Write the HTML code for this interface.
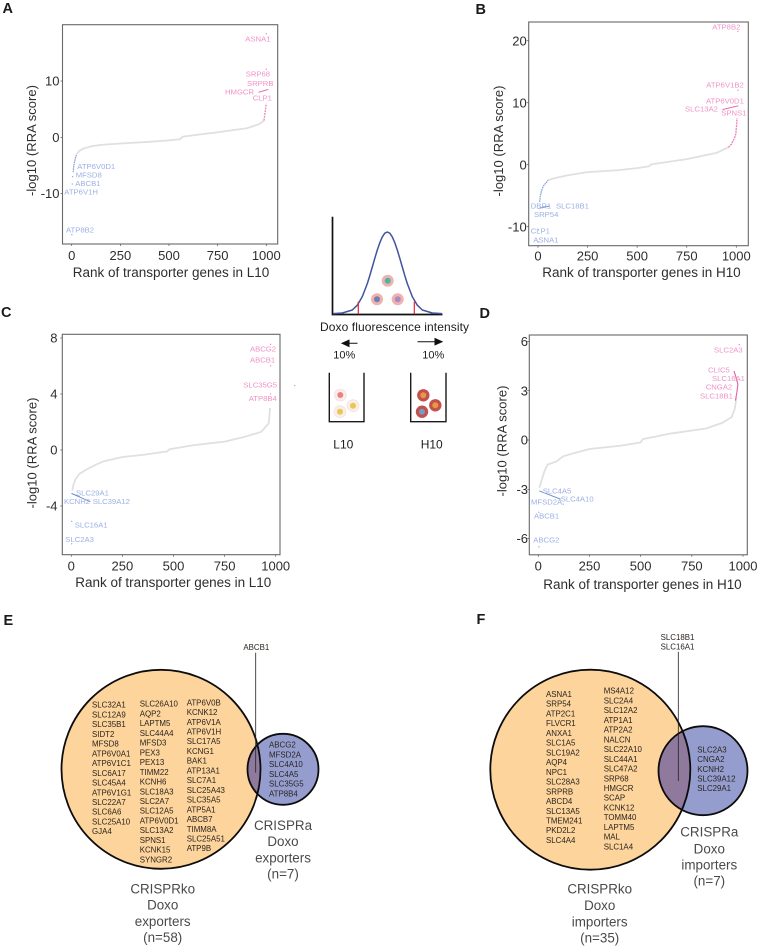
<!DOCTYPE html>
<html>
<head>
<meta charset="utf-8">
<title>CRISPR screens of doxorubicin transporters</title>
<style>
html,body{margin:0;padding:0;background:#fff;}
svg{display:block;font-family:"Liberation Sans",sans-serif;}
.letter{font-size:14.5px;font-weight:bold;fill:#1a1a1a;}
.pk{font-size:7.7px;fill:#ef93c8;}
.bl{font-size:7.7px;fill:#9db0e3;}
.gene{font-size:7.9px;fill:#2a2520;}
.cap{font-size:13.4px;fill:#4a4a4a;text-anchor:middle;}
.dia{font-size:12px;fill:#1c1c1c;}
.pct{font-size:11px;fill:#1c1c1c;}
</style>
</head>
<body>
<svg id="fig" width="758" height="947" viewBox="0 0 758 947" xmlns="http://www.w3.org/2000/svg">
<defs>
<clipPath id="clipE"><circle cx="161" cy="769.3" r="99.5"/></clipPath>
<clipPath id="clipF"><circle cx="590.3" cy="769.7" r="100"/></clipPath>
</defs>

<text class="letter" x="2.5" y="13">A</text>
<text class="letter" x="475.5" y="14">B</text>
<text class="letter" x="1" y="317">C</text>
<text class="letter" x="479.5" y="318">D</text>
<text class="letter" x="3.5" y="625">E</text>
<text class="letter" x="476.5" y="624">F</text>

<g id="panelA"></g>
<g id="panelB"></g>
<g id="panelC"></g>
<g id="panelD"></g>

<g>
<text class="pk" x="245.3" y="41.7">ASNA1</text>
<text class="pk" x="245.7" y="76.7">SRP68</text>
<text class="pk" x="247" y="86">SRPRB</text>
<text class="pk" x="225" y="94.7">HMGCR</text>
<text class="pk" x="252.7" y="100.7">CLP1</text>
<text class="bl" x="77.3" y="169">ATP6V0D1</text>
<text class="bl" x="75.7" y="177.7">MFSD8</text>
<text class="bl" x="75.3" y="186">ABCB1</text>
<text class="bl" x="64.3" y="194.7">ATP6V1H</text>
<text class="bl" x="66" y="232.3">ATP8B2</text>
</g>
<g>
<text class="pk" x="712.3" y="29.3">ATP8B2</text>
<text class="pk" x="706.3" y="87.3">ATP6V1B2</text>
<text class="pk" x="706" y="103.3">ATP6V0D1</text>
<text class="pk" x="685" y="111.7">SLC13A2</text>
<text class="pk" x="721.3" y="115.7">SPNS1</text>
<text class="bl" x="530.7" y="208.3">DBR1</text>
<text class="bl" x="556" y="208.3">SLC18B1</text>
<text class="bl" x="534" y="217">SRP54</text>
<text class="bl" x="530.7" y="233.3">CLP1</text>
<text class="bl" x="533.3" y="242.7">ASNA1</text>
</g>
<g>
<text class="pk" x="250" y="351.7">ABCG2</text>
<text class="pk" x="250" y="362.7">ABCB1</text>
<text class="pk" x="243.3" y="387.7">SLC35G5</text>
<text class="pk" x="248.7" y="401">ATP8B4</text>
<text class="bl" x="76" y="495.3">SLC29A1</text>
<text class="bl" x="64" y="504">KCNH2</text>
<text class="bl" x="92.7" y="504">SLC39A12</text>
<text class="bl" x="74.7" y="527.7">SLC16A1</text>
<text class="bl" x="65.3" y="542">SLC2A3</text>
</g>
<g>
<text class="pk" x="714" y="352.3">SLC2A3</text>
<text class="pk" x="708" y="372.7">CLIC5</text>
<text class="pk" x="712" y="381">SLC16A1</text>
<text class="pk" x="705.7" y="389.7">CNGA2</text>
<text class="pk" x="700" y="398.3">SLC18B1</text>
<text class="bl" x="542.7" y="493.5">SLC4A5</text>
<text class="bl" x="531" y="504.3">MFSD2A</text>
<text class="bl" x="560.7" y="501.7">SLC4A10</text>
<text class="bl" x="534" y="518.7">ABCB1</text>
<text class="bl" x="533.3" y="542.7">ABCG2</text>
</g>

<g>
<path d="M332.5 216.7V314.5H442.5" fill="none" stroke="#111" stroke-width="1.7"/>
<polyline points="333,313.6 342.3,313 352.3,310 357.3,305.2 362.3,296.6 367.3,283.6 369.8,275.6 372.3,267 374.8,258.3 377.3,250 379.8,242.7 382.3,236.9 384.8,233.2 387.3,232 389.8,233.2 392.3,236.9 394.8,242.7 397.3,250 399.8,258.3 402.3,267 404.8,275.6 407.3,283.6 412.3,296.6 417.3,305.2 422.3,310 432.3,313 442,313.6" fill="none" stroke="#42539f" stroke-width="1.5" stroke-linejoin="round"/>
<line x1="358.3" y1="301.7" x2="358.3" y2="314" stroke="#e8242a" stroke-width="1.2"/>
<line x1="414.3" y1="301.7" x2="414.3" y2="314" stroke="#e8242a" stroke-width="1.2"/>
<circle cx="387.7" cy="280.7" r="6" fill="#efb2ae"/><circle cx="387.7" cy="280.7" r="3" fill="#4fb5a0"/>
<circle cx="377" cy="299.3" r="6" fill="#efb2ae"/><circle cx="377" cy="299.3" r="3" fill="#6f80b5"/>
<circle cx="397.7" cy="299.3" r="6" fill="#efb2ae"/><circle cx="397.7" cy="299.3" r="3" fill="#a98bc0"/>
<text class="dia" x="320" y="331" textLength="149">Doxo fluorescence intensity</text>
<path d="M357.5 343.3H342M342 343.3l7-3.2v6.4z" fill="#111" stroke="#111" stroke-width="1"/>
<path d="M417.5 341.7H442M442 341.7l-7-3.2v6.4z" fill="#111" stroke="#111" stroke-width="1"/>
<text class="pct" x="333.3" y="358.5">10%</text>
<text class="pct" x="422.3" y="358.5">10%</text>
<path d="M329.3 372.7V421.7H364V372.7" fill="none" stroke="#1a1a1a" stroke-width="1.4"/>
<path d="M410.7 372.7V421.7H446V372.7" fill="none" stroke="#1a1a1a" stroke-width="1.4"/>
<circle cx="340.3" cy="395" r="6" fill="#f9eeea" stroke="#f0dcd6" stroke-width=".6"/><circle cx="340.3" cy="395" r="3" fill="#ef8080"/>
<circle cx="353" cy="405.7" r="6" fill="#f9eeea" stroke="#f0dcd6" stroke-width=".6"/><circle cx="353" cy="405.7" r="3" fill="#e8c850"/>
<circle cx="340" cy="411.7" r="6" fill="#f9eeea" stroke="#f0dcd6" stroke-width=".6"/><circle cx="340" cy="411.7" r="3" fill="#e8c850"/>
<circle cx="423.3" cy="395.3" r="6.2" fill="#c2504d"/><circle cx="423.3" cy="395.3" r="3" fill="#e89840"/>
<circle cx="435.3" cy="405.3" r="6.2" fill="#c2504d"/><circle cx="435.3" cy="405.3" r="3" fill="#e89840"/>
<circle cx="422" cy="411.7" r="6.2" fill="#c2504d"/><circle cx="422" cy="411.7" r="3" fill="#70a0c8"/>
<text class="dia" x="333.3" y="448.3">L10</text>
<text class="dia" x="420.7" y="448.3">H10</text>
</g>

<g>
<circle cx="161" cy="769.3" r="99.5" fill="#fdd49c"/>
<circle cx="283" cy="769.3" r="35.5" fill="#959dcf"/>
<circle cx="283" cy="769.3" r="35.5" fill="#8f7a9e" clip-path="url(#clipE)"/>
<circle cx="161" cy="769.3" r="99.5" fill="none" stroke="#0c0c0c" stroke-width="1.8"/>
<circle cx="283" cy="769.3" r="35.5" fill="none" stroke="#0c0c0c" stroke-width="1.8"/>
<line x1="255.7" y1="652.7" x2="255.7" y2="772.7" stroke="#222" stroke-width=".8"/>
<text class="gene" x="256.3" y="650" text-anchor="middle">ABCB1</text>
<text class="gene"><tspan x="92" y="707.7">SLC32A1</tspan><tspan x="92" dy="9.73">SLC12A9</tspan><tspan x="92" dy="9.73">SLC35B1</tspan><tspan x="92" dy="9.73">SIDT2</tspan><tspan x="92" dy="9.73">MFSD8</tspan><tspan x="92" dy="9.73">ATP6V0A1</tspan><tspan x="92" dy="9.73">ATP6V1C1</tspan><tspan x="92" dy="9.73">SLC6A17</tspan><tspan x="92" dy="9.73">SLC45A4</tspan><tspan x="92" dy="9.73">ATP6V1G1</tspan><tspan x="92" dy="9.73">SLC22A7</tspan><tspan x="92" dy="9.73">SLC6A6</tspan><tspan x="92" dy="9.73">SLC25A10</tspan><tspan x="92" dy="9.73">GJA4</tspan></text>
<text class="gene"><tspan x="139.7" y="706.7">SLC26A10</tspan><tspan x="139.7" dy="9.73">AQP2</tspan><tspan x="139.7" dy="9.73">LAPTM5</tspan><tspan x="139.7" dy="9.73">SLC44A4</tspan><tspan x="139.7" dy="9.73">MFSD3</tspan><tspan x="139.7" dy="9.73">PEX3</tspan><tspan x="139.7" dy="9.73">PEX13</tspan><tspan x="139.7" dy="9.73">TIMM22</tspan><tspan x="139.7" dy="9.73">KCNH6</tspan><tspan x="139.7" dy="9.73">SLC18A3</tspan><tspan x="139.7" dy="9.73">SLC2A7</tspan><tspan x="139.7" dy="9.73">SLC12A5</tspan><tspan x="139.7" dy="9.73">ATP6V0D1</tspan><tspan x="139.7" dy="9.73">SLC13A2</tspan><tspan x="139.7" dy="9.73">SPNS1</tspan><tspan x="139.7" dy="9.73">KCNK15</tspan><tspan x="139.7" dy="9.73">SYNGR2</tspan></text>
<text class="gene"><tspan x="186.7" y="705.3">ATP6V0B</tspan><tspan x="186.7" dy="9.73">KCNK12</tspan><tspan x="186.7" dy="9.73">ATP6V1A</tspan><tspan x="186.7" dy="9.73">ATP6V1H</tspan><tspan x="186.7" dy="9.73">SLC17A5</tspan><tspan x="186.7" dy="9.73">KCNG1</tspan><tspan x="186.7" dy="9.73">BAK1</tspan><tspan x="186.7" dy="9.73">ATP13A1</tspan><tspan x="186.7" dy="9.73">SLC7A1</tspan><tspan x="186.7" dy="9.73">SLC25A43</tspan><tspan x="186.7" dy="9.73">SLC35A5</tspan><tspan x="186.7" dy="9.73">ATP5A1</tspan><tspan x="186.7" dy="9.73">ABCB7</tspan><tspan x="186.7" dy="9.73">TIMM8A</tspan><tspan x="186.7" dy="9.73">SLC25A51</tspan><tspan x="186.7" dy="9.73">ATP9B</tspan></text>
<text class="gene"><tspan x="269" y="747.7">ABCG2</tspan><tspan x="269" dy="9.73">MFSD2A</tspan><tspan x="269" dy="9.73">SLC4A10</tspan><tspan x="269" dy="9.73">SLC4A5</tspan><tspan x="269" dy="9.73">SLC35G5</tspan><tspan x="269" dy="9.73">ATP8B4</tspan></text>
<text class="cap"><tspan x="283" y="830">CRISPRa</tspan><tspan x="283" y="846">Doxo</tspan><tspan x="283" y="862.3">exporters</tspan><tspan x="283" y="878.7">(n=7)</tspan></text>
<text class="cap"><tspan x="162.7" y="893.3">CRISPRko</tspan><tspan x="162.7" y="909.3">Doxo</tspan><tspan x="162.7" y="926">exporters</tspan><tspan x="162.7" y="942">(n=58)</tspan></text>
</g>

<g>
<circle cx="590.3" cy="769.7" r="100" fill="#fdd49c"/>
<circle cx="703" cy="770.7" r="44.5" fill="#959dcf"/>
<circle cx="703" cy="770.7" r="44.5" fill="#8f7a9e" clip-path="url(#clipF)"/>
<circle cx="590.3" cy="769.7" r="100" fill="none" stroke="#0c0c0c" stroke-width="1.8"/>
<circle cx="703" cy="770.7" r="44.5" fill="none" stroke="#0c0c0c" stroke-width="1.8"/>
<line x1="678.3" y1="651.7" x2="678.3" y2="781" stroke="#222" stroke-width=".8"/>
<text class="gene" text-anchor="middle"><tspan x="677.5" y="640">SLC18B1</tspan><tspan x="677.5" y="649.7">SLC16A1</tspan></text>
<text class="gene"><tspan x="546" y="697">ASNA1</tspan><tspan x="546" dy="9.73">SRP54</tspan><tspan x="546" dy="9.73">ATP2C1</tspan><tspan x="546" dy="9.73">FLVCR1</tspan><tspan x="546" dy="9.73">ANXA1</tspan><tspan x="546" dy="9.73">SLC1A5</tspan><tspan x="546" dy="9.73">SLC19A2</tspan><tspan x="546" dy="9.73">AQP4</tspan><tspan x="546" dy="9.73">NPC1</tspan><tspan x="546" dy="9.73">SLC28A3</tspan><tspan x="546" dy="9.73">SRPRB</tspan><tspan x="546" dy="9.73">ABCD4</tspan><tspan x="546" dy="9.73">SLC13A5</tspan><tspan x="546" dy="9.73">TMEM241</tspan><tspan x="546" dy="9.73">PKD2L2</tspan><tspan x="546" dy="9.73">SLC4A4</tspan></text>
<text class="gene"><tspan x="603.7" y="693.7">MS4A12</tspan><tspan x="603.7" dy="9.73">SLC2A4</tspan><tspan x="603.7" dy="9.73">SLC12A2</tspan><tspan x="603.7" dy="9.73">ATP1A1</tspan><tspan x="603.7" dy="9.73">ATP2A2</tspan><tspan x="603.7" dy="9.73">NALCN</tspan><tspan x="603.7" dy="9.73">SLC22A10</tspan><tspan x="603.7" dy="9.73">SLC44A1</tspan><tspan x="603.7" dy="9.73">SLC47A2</tspan><tspan x="603.7" dy="9.73">SRP68</tspan><tspan x="603.7" dy="9.73">HMGCR</tspan><tspan x="603.7" dy="9.73">SCAP</tspan><tspan x="603.7" dy="9.73">KCNK12</tspan><tspan x="603.7" dy="9.73">TOMM40</tspan><tspan x="603.7" dy="9.73">LAPTM5</tspan><tspan x="603.7" dy="9.73">MAL</tspan><tspan x="603.7" dy="9.73">SLC1A4</tspan></text>
<text class="gene"><tspan x="697.3" y="752.3">SLC2A3</tspan><tspan x="697.3" dy="9.73">CNGA2</tspan><tspan x="697.3" dy="9.73">KCNH2</tspan><tspan x="697.3" dy="9.73">SLC39A12</tspan><tspan x="697.3" dy="9.73">SLC29A1</tspan></text>
<text class="cap"><tspan x="709.3" y="836.7">CRISPRa</tspan><tspan x="709.3" y="853.3">Doxo</tspan><tspan x="709.3" y="869.3">importers</tspan><tspan x="709.3" y="885.7">(n=7)</tspan></text>
<text class="cap"><tspan x="599.7" y="893.3">CRISPRko</tspan><tspan x="599.7" y="910">Doxo</tspan><tspan x="599.7" y="926.7">importers</tspan><tspan x="599.7" y="942.7">(n=35)</tspan></text>
</g>
</svg>

<script>
// Shared x tick labels
const rankTicks = [0, 250, 500, 750, 1000];

// Panel A
const aYTicks = [-10, 0, 10];
const aMidRank = [25,40,60,100,150,250,400,500,555,570,600,750,900,960,990];
const aMidScore = [-3.0,-2.4,-2.0,-1.6,-1.35,-1.1,-0.8,-0.55,-0.35,0.1,0.25,0.9,1.6,2.3,3.0];
const aLowRank = [8,10,13,17,20,25];
const aLowScore = [-6.2,-5.2,-4.6,-4,-3.5,-3.1];
const aHighRank = [988,990,993,996,1000];
const aHighScore = [3,3.5,4.2,5,6];
const aLowDotRank = [1,3,5];
const aLowDotScore = [-17.3,-8.3,-7];
const aHighDotRank = [1000,1000];
const aHighDotScore = [18.4,12.1];
const aLinkRank = [960,1010];
const aLinkScore = [8.0,8.5];

// Panel B
const bYTicks = [-10, 0, 10, 20];
const bMidRank = [50,80,150,250,400,500,560,570,600,750,900,960];
const bMidScore = [-2.5,-2.2,-1.7,-1.2,-0.9,-0.55,-0.25,0.05,0.2,0.9,1.9,2.8];
const bLowRank = [8,12,18,25,32,40,50];
const bLowScore = [-6,-5,-4.2,-3.6,-3.2,-3,-2.5];
const bHighRank = [960,975,985,993,998,1000,1002,1003];
const bHighScore = [2.8,3.3,3.9,4.5,5,6,6.5,7.5];
const bLowDotRank = [1,3];
const bLowDotScore = [-12.5,-10.5];
const bHighDotRank = [1008,1008];
const bHighDotScore = [21.5,12];
const bLowLinkRank = [2,60];
const bLowLinkScore = [-7.05,-6.65];
const bLinkRank = [930,1010];
const bLinkScore = [8.9,9.5];

// Panel C
const cYTicks = [-4, 0, 4, 8];
const cMidRank = [5,10,20,40,80,120,160,250,350,470,480,600,750,850,930,965,968,970,972];
const cMidScore = [-2.9,-2.5,-2.1,-1.7,-1.35,-1.05,-0.8,-0.5,-0.35,-0.1,0.05,0.35,0.6,0.95,1.3,1.9,2.2,2.6,3];
const cLowDotRank = [2,2];
const cLowDotScore = [-5.1,-6.7];
const cHighDotRank = [975,975,1093,975];
const cHighDotScore = [7.55,6.0,4.6,4.0];
const cLowLinkRank = [1,93];
const cLowLinkScore = [-3.1,-3.7];
const cLowLink2Rank = [1,42];
const cLowLink2Score = [-3.1,-3.35];

// Panel D
const dYTicks = [-6, -3, 0, 3, 6];
const dMidRank = [5,15,30,45,90,120,160,250,400,500,510,650,820,900,945,960,968];
const dMidScore = [-2.9,-2.5,-1.9,-1.5,-1.3,-1,-0.85,-0.55,-0.35,-0.15,0.05,0.4,0.7,1.05,1.4,1.9,2.6];
const dHighRank = [956,965,975,970,963];
const dHighScore = [4.2,3.85,3.4,2.9,2.4];
const dLowDotRank = [3,3,122];
const dLowDotScore = [-4.4,-6.5,-3.9];
const dHighDotRank = [982];
const dHighDotScore = [5.8];
const dLowLinkRank = [5,109];
const dLowLinkScore = [-3.1,-3.6];

const NS = 'http://www.w3.org/2000/svg';

function add(parent, tag, name, attrs, text) {
  const el = document.createElementNS(NS, tag);
  
  
  for (const k in attrs) el.setAttribute(k, attrs[k]);
  if (text !== undefined) el.textContent = text;
  parent.appendChild(el);
  return el;
}

function linear(d0, d1, r0, r1) {
  return function (v) { return r0 + (v - d0) * (r1 - r0) / (d1 - d0); };
}

function line(g, name, xs, ys, sx, sy, color, width, dash) {
  const pts = xs.map(function (r, i) { return sx(r).toFixed(2) + ',' + sy(ys[i]).toFixed(2); }).join(' ');
  const el = add(g, 'polyline', name, { points: pts, fill: 'none', stroke: color, 'stroke-width': width, 'stroke-linejoin': 'round' });
  if (dash) el.setAttribute('stroke-dasharray', dash);
}

function dots(g, name, xs, ys, sx, sy, color) {
  xs.forEach(function (r, i) {
    add(g, 'circle', name, { cx: sx(r).toFixed(2), cy: sy(ys[i]).toFixed(2), r: 0.65, fill: color });
  });
}

function frame(g, p, sx, sy, yTicks) {
  add(g, 'rect', 'plot-frame', { x: p.left, y: p.top, width: p.right - p.left, height: p.bottom - p.top, fill: 'none', stroke: '#686868', 'stroke-width': 1.1 });
  rankTicks.forEach(function (t) {
    add(g, 'line', 'x-tick', { x1: sx(t), x2: sx(t), y1: p.bottom, y2: p.bottom + 2, stroke: '#555', 'stroke-width': 0.7 });
    add(g, 'text', 'x-tick-label', { x: sx(t), y: p.xTickY, 'text-anchor': 'middle', 'font-size': 13, fill: '#2e2e2e' }, String(t));
  });
  yTicks.forEach(function (t) {
    add(g, 'line', 'y-tick', { x1: p.left - 2, x2: p.left, y1: sy(t), y2: sy(t), stroke: '#555', 'stroke-width': 0.7 });
    add(g, 'text', 'y-tick-label', { x: p.yTickX, y: sy(t) + 4.6, 'text-anchor': 'end', 'font-size': 13, fill: '#2e2e2e' }, String(t));
  });
  add(g, 'text', 'x-axis-title', { x: p.xTitleX, y: p.xTitleY, 'font-size': 13.5, fill: '#2e2e2e', textLength: p.xTitleW }, p.xTitle);
  add(g, 'text', 'y-axis-title', { transform: 'translate(' + p.yTitleX + ',' + p.yTitleY + ') rotate(-90)', 'text-anchor': 'middle', 'font-size': 13, fill: '#2e2e2e', textLength: 111 }, '-log10 (RRA score)');
}

const GREY = '#e0e0e0', PINK = '#ec7fbd', BLUE = '#8da2dc', PINKD = '#e35fa9', BLUED = '#6d88d2';

// Panel A drawing
(function () {
  const g = document.getElementById('panelA');
  const sx = linear(0, 1000, 71.7, 266.3), sy = linear(0, 10, 137.3, 81);
  frame(g, { left: 62.5, right: 277.7, top: 24.7, bottom: 244, xTickY: 260, yTickX: 59.5, xTitle: 'Rank of transporter genes in L10', xTitleX: 72.7, xTitleY: 277, xTitleW: 196.6, yTitleX: 36, yTitleY: 140.5 }, sx, sy, aYTicks);
  line(g, 'middle-genes-line', aMidRank, aMidScore, sx, sy, GREY, 1.8);
  line(g, 'low-tail-line', aLowRank, aLowScore, sx, sy, BLUE, 1.3, '1.6 0.7');
  line(g, 'high-tail-line', aHighRank, aHighScore, sx, sy, PINK, 1.3, '1.8 1');
  dots(g, 'low-outlier-point', aLowDotRank, aLowDotScore, sx, sy, BLUE);
  dots(g, 'high-outlier-point', aHighDotRank, aHighDotScore, sx, sy, PINK);
  line(g, 'label-connector', aLinkRank, aLinkScore, sx, sy, PINKD, 0.9);
})();

// Panel B drawing
(function () {
  const g = document.getElementById('panelB');
  const sx = linear(0, 1000, 538, 736.3), sy = linear(0, 10, 164.7, 102.7);
  frame(g, { left: 528.7, right: 748.3, top: 22, bottom: 245.7, xTickY: 260.7, yTickX: 526.7, xTitle: 'Rank of transporter genes in H10', xTitleX: 542.3, xTitleY: 277, xTitleW: 198.4, yTitleX: 503, yTitleY: 141 }, sx, sy, bYTicks);
  line(g, 'middle-genes-line', bMidRank, bMidScore, sx, sy, GREY, 1.8);
  line(g, 'low-tail-line', bLowRank, bLowScore, sx, sy, BLUE, 1.3, '1.6 0.7');
  line(g, 'high-tail-line', bHighRank, bHighScore, sx, sy, PINK, 1.3, '2 0.8');
  dots(g, 'low-outlier-point', bLowDotRank, bLowDotScore, sx, sy, BLUE);
  dots(g, 'high-outlier-point', bHighDotRank, bHighDotScore, sx, sy, PINK);
  line(g, 'label-connector', bLowLinkRank, bLowLinkScore, sx, sy, BLUED, 0.9);
  line(g, 'label-connector', bLinkRank, bLinkScore, sx, sy, PINKD, 0.9);
})();

// Panel C drawing
(function () {
  const g = document.getElementById('panelC');
  const sx = linear(0, 1000, 71.3, 275.7), sy = linear(0, 4, 450, 394);
  frame(g, { left: 62.3, right: 280, top: 334.3, bottom: 554.7, xTickY: 570.7, yTickX: 57.5, xTitle: 'Rank of transporter genes in L10', xTitleX: 75.3, xTitleY: 587, xTitleW: 196, yTitleX: 36.7, yTitleY: 453 }, sx, sy, cYTicks);
  line(g, 'middle-genes-line', cMidRank, cMidScore, sx, sy, GREY, 1.8);
  dots(g, 'low-outlier-point', cLowDotRank, cLowDotScore, sx, sy, BLUE);
  dots(g, 'high-outlier-point', cHighDotRank, cHighDotScore, sx, sy, PINK);
  line(g, 'label-connector', cLowLinkRank, cLowLinkScore, sx, sy, BLUED, 0.9);
  line(g, 'label-connector', cLowLink2Rank, cLowLink2Score, sx, sy, BLUED, 0.9);
})();

// Panel D drawing
(function () {
  const g = document.getElementById('panelD');
  const sx = linear(0, 1000, 538.3, 743), sy = linear(0, 3, 440, 390.7);
  frame(g, { left: 529.3, right: 747.3, top: 335, bottom: 554.8, xTickY: 570.7, yTickX: 528, xTitle: 'Rank of transporter genes in H10', xTitleX: 543.3, xTitleY: 589, xTitleW: 198.4, yTitleX: 506.7, yTitleY: 441 }, sx, sy, dYTicks);
  line(g, 'middle-genes-line', dMidRank, dMidScore, sx, sy, GREY, 1.8);
  line(g, 'high-tail-line', dHighRank, dHighScore, sx, sy, PINKD, 1.1);
  dots(g, 'low-outlier-point', dLowDotRank, dLowDotScore, sx, sy, BLUE);
  dots(g, 'high-outlier-point', dHighDotRank, dHighDotScore, sx, sy, PINK);
  line(g, 'label-connector', dLowLinkRank, dLowLinkScore, sx, sy, BLUED, 0.9);
})();
</script>
</body>
</html>
